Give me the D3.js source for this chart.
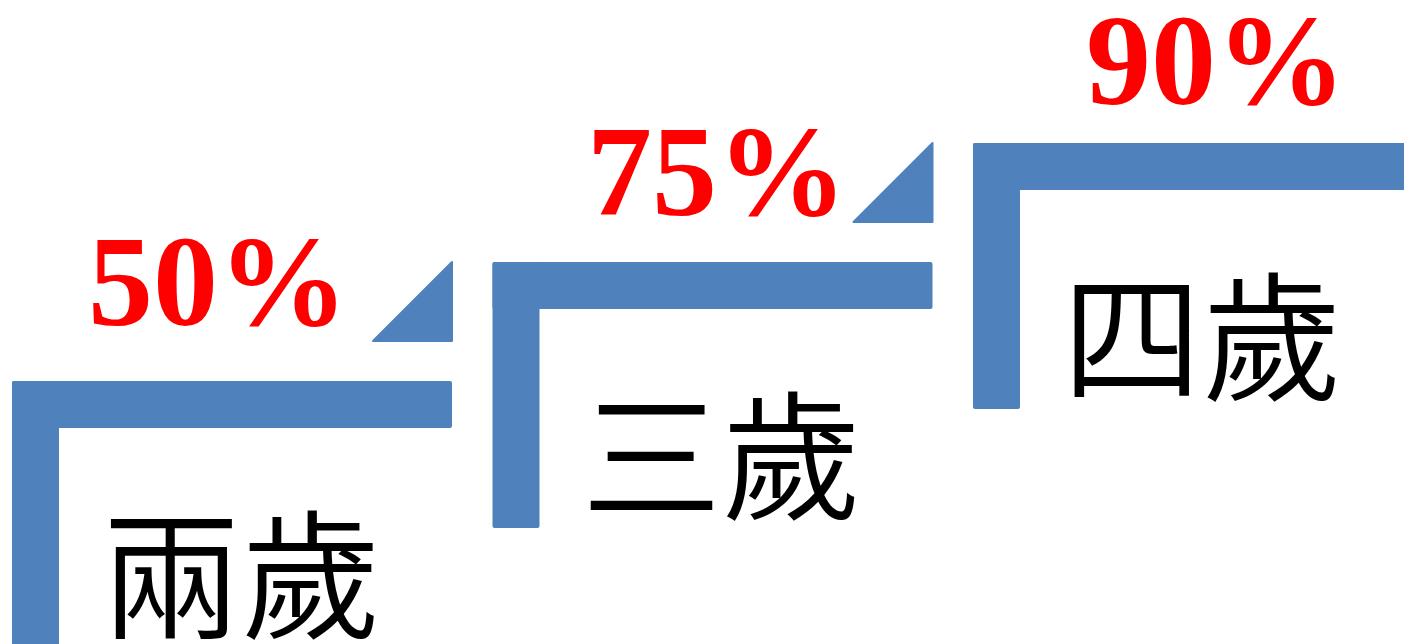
<!DOCTYPE html>
<html>
<head>
<meta charset="utf-8">
<script src="https://cdn.jsdelivr.net/npm/d3@7"></script>
<style>
html, body { margin: 0; padding: 0; background: #fff; overflow: hidden; }
</style>
</head>
<body>
<div id="canvas"></div>
<script>
// ----------------------------------------------------------
// DATA -----------------------------------------------------
// ----------------------------------------------------------

var categories = ["兩歲", "三歲", "四歲"];
var values = [50, 75, 90];

var data_input = categories.map(function (c, i) {
  return { term: c, value_1: values[i], index: i };
});

// ----------------------------------------------------------
// STRUCTURE ------------------------------------------------
// ----------------------------------------------------------

var container_width = 1404;
var container_height = 644;
var color_step = "#4F81BD";
var color_value = "#FF0000";
var color_text = "#000";

var bar_length = 440;
var bar_thick = 47;
var leg_length = 266;

var container = d3.select("#canvas").append("svg")
  .attr("width", container_width)
  .attr("height", container_height)
  .style("background-color", "#fff");

var gfx_group = container.append("g").attr("class", "gfx_group");
var text_group = container.append("g").attr("class", "text_group");

// ----------------------------------------------------------
// SCALES ---------------------------------------------------
// ----------------------------------------------------------

var n = data_input.length;

// step position (top left corner of each L)
var xScale = d3.scaleLinear().domain([0, n - 1]).range([12, 973]);
var yScale = d3.scaleLinear().domain([0, n - 1]).range([381, 143]);

// value label position
var xLabel = d3.scaleLinear().domain([0, n - 1]).range([218, 1216]);
var yLabel = d3.scaleLinear().domain([0, n - 1]).range([325, 104]);

// ----------------------------------------------------------
// GFX ------------------------------------------------------
// ----------------------------------------------------------

var gfx_step = gfx_group.selectAll(".gfx_step")
  .data(data_input)
  .enter()
  .append("g")
  .attr("class", "gfx_step");

// horizontal part of the step
gfx_step.append("rect")
  .attr("x", function (d) { return xScale(d.index); })
  .attr("y", function (d) { return yScale(d.index); })
  .attr("width", bar_length)
  .attr("height", bar_thick)
  .attr("rx", 2)
  .style("fill", color_step);

// vertical part of the step
gfx_step.append("rect")
  .attr("x", function (d) { return xScale(d.index); })
  .attr("y", function (d) { return yScale(d.index); })
  .attr("width", bar_thick)
  .attr("height", leg_length)
  .attr("rx", 2)
  .style("fill", color_step);

// arrow triangle pointing to the next step
gfx_step.filter(function (d) { return d.index < n - 1; })
  .append("path")
  .attr("d", function (d) {
    var right = xScale(d.index) + bar_length;
    var top = yScale(d.index + 1);
    var bottom = yScale(d.index) - 40;
    var size = bottom - top;
    return "M" + right + "," + top + "L" + right + "," + bottom + "L" + (right - size) + "," + bottom + "Z";
  })
  .style("fill", color_step)
  .style("stroke", color_step)
  .style("stroke-width", 2)
  .style("stroke-linejoin", "round");

// ----------------------------------------------------------
// TEXT -----------------------------------------------------
// ----------------------------------------------------------

// percent labels
text_group.selectAll(".text_value")
  .data(data_input)
  .enter()
  .append("text")
  .attr("class", "text_value")
  .attr("x", function (d) { return xLabel(d.index); })
  .attr("y", function (d) { return yLabel(d.index); })
  .attr("text-anchor", "middle")
  .style("font-family", "'Liberation Serif', 'Times New Roman', serif")
  .style("font-weight", "bold")
  .style("font-size", "130px")
  .style("fill", color_value)
  .text(function (d) { return d.value_1 + "%"; });

// age labels
text_group.selectAll(".text_term")
  .data(data_input)
  .enter()
  .append("text")
  .attr("class", "text_term")
  .attr("x", function (d) { return xScale(d.index) + 89; })
  .attr("y", function (d) { return yScale(d.index) + 247; })
  .attr("text-anchor", "start")
  .style("font-family", "'Noto Sans CJK TC', 'Noto Sans CJK SC', sans-serif")
  .style("font-weight", 350)
  .style("font-size", "140px")
  .style("fill", color_text)
  .text(function (d) { return d.term; });
</script>
</body>
</html>
